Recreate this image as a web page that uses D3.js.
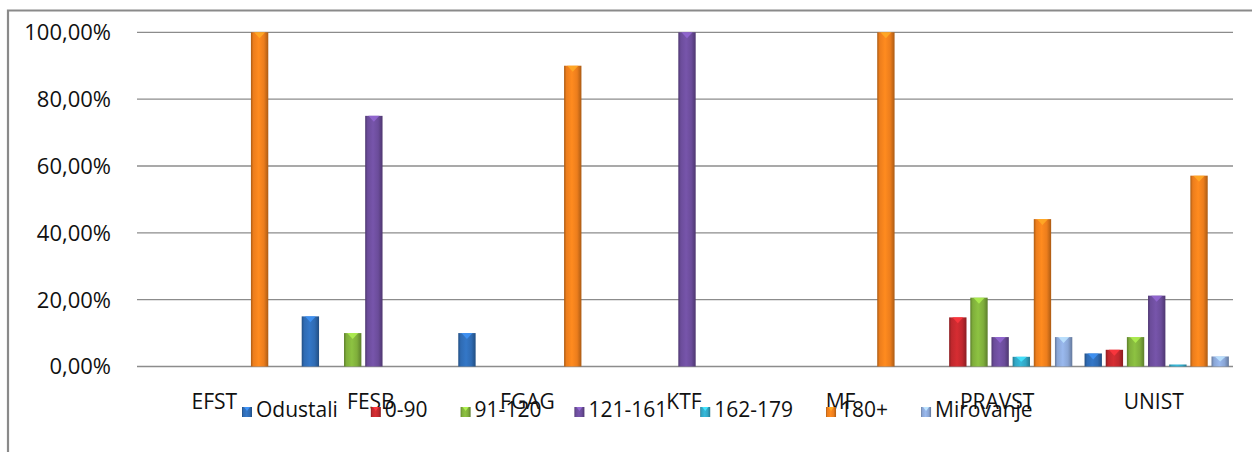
<!DOCTYPE html>
<html><head><meta charset="utf-8">
<script src="https://cdn.jsdelivr.net/npm/d3@7"></script>
<style>html,body{margin:0;padding:0;background:#fff}svg{display:block}</style>
</head><body><svg id="c" width="1252" height="452"></svg>
<script>
const categories = ["EFST","FESB","FGAG","KTF","MF","PRAVST","UNIST"];
const seriesNames = ["Odustali","0-90","91-120","121-161","162-179","180+","Mirovanje"];
const odustali  = [0, 15, 10, 0, 0, 0, 3.9];
const s0_90     = [0, 0, 0, 0, 0, 14.7, 5.0];
const s91_120   = [0, 10, 0, 0, 0, 20.6, 8.8];
const s121_161  = [0, 75, 0, 100, 0, 8.8, 21.2];
const s162_179  = [0, 0, 0, 0, 0, 2.9, 0.6];
const s180      = [100, 0, 90, 0, 100, 44.1, 57.1];
const mirovanje = [0, 0, 0, 0, 0, 8.8, 3.0];
const yTicks = [0, 20, 40, 60, 80, 100];
const seriesValues = [odustali, s0_90, s91_120, s121_161, s162_179, s180, mirovanje];
const colors = ["#2f6bb3","#c0282d","#7fae3b","#6b4c9a","#31a6c4","#ec7d1c","#8aa6d6"];

const svg = d3.select("#c");
svg.append("rect").attr("width",1252).attr("height",452).attr("fill","#fff");
svg.append("path").attr("d","M8,452V10.5H1252").attr("fill","none").attr("stroke","#8a8a8a").attr("stroke-width",2.2);

const L = 137, R = 1233, T = 32.3, B = 366.5;
const y = d3.scaleLinear().domain([0,100]).range([B,T]);
const x0 = d3.scaleBand().domain(categories).range([L+2, R+2]).paddingInner(0.054).paddingOuter(0.027);
const x1 = d3.scaleBand().domain(seriesNames).range([0, x0.bandwidth()]).paddingInner(0.18).paddingOuter(0.09);

const loc = d3.formatLocale({decimal:",", thousands:".", grouping:[3], currency:["","€"]});
const fmt = loc.format(".2f");
const FONT = "Open Sans";

// gridlines
svg.append("g").selectAll("line").data(yTicks).join("line")
  .attr("x1",L).attr("x2",R).attr("y1",d=>y(d)).attr("y2",d=>y(d))
  .attr("stroke","#8c8c8c").attr("stroke-width",1.3);

// y labels
svg.append("g").selectAll("text").data(yTicks).join("text")
  .attr("x",111).attr("y",d=>y(d)).attr("dy","0.36em").attr("text-anchor","end")
  .attr("font-family",FONT).attr("font-size",22).attr("fill","#111")
  .text(d=>fmt(d)+"%");

// gradients
const defs = svg.append("defs");
colors.forEach((c,i)=>{
  const g = defs.append("linearGradient").attr("id","g"+i).attr("x1","0").attr("x2","1").attr("y1","0").attr("y2","0");
  const base = d3.color(c);
  const dark = base.darker(0.9), light = base.brighter(0.3);
  [[0,dark],[0.14,base],[0.45,light],[0.75,base],[1,dark]].forEach(([o,col])=>{
    g.append("stop").attr("offset",o).attr("stop-color",col);
  });
});

// bars
const bars = [];
categories.forEach((cat,ci)=>{
  seriesNames.forEach((s,si)=>{
    const v = seriesValues[si][ci];
    if (v > 0) bars.push({cat, s, si, v});
  });
});
const bg = svg.append("g");
bg.selectAll("rect").data(bars).join("rect")
  .attr("x",d=>x0(d.cat)+x1(d.s)).attr("width",x1.bandwidth())
  .attr("y",d=>y(d.v)).attr("height",d=>B-y(d.v))
  .attr("fill",d=>"url(#g"+d.si+")");
bg.selectAll("path").data(bars.filter(d=>B-y(d.v)>4)).join("path")
  .attr("d",d=>{
    const xs = x0(d.cat)+x1(d.s), w = x1.bandwidth(), yt = y(d.v);
    const h = Math.min(6, (B-yt)*0.5);
    return `M${xs+w*0.18},${yt}L${xs+w*0.82},${yt}L${xs+w*0.5},${yt+h}Z`;
  })
  .attr("fill",d=>d3.color(colors[d.si]).brighter(0.9)).attr("opacity",0.85);

// category labels
svg.append("g").selectAll("text").data(categories).join("text")
  .attr("x",d=>x0(d)+x0.bandwidth()/2-3).attr("y",409).attr("text-anchor","middle")
  .attr("font-family",FONT).attr("font-size",21).attr("fill","#111").text(d=>d);

// legend
const lg = svg.append("g");
let lx = 242;
seriesNames.forEach((s,i)=>{
  const it = lg.append("g").attr("transform",`translate(${lx},0)`);
  it.append("rect").attr("x",0).attr("y",407).attr("width",10).attr("height",10).attr("fill","url(#g"+i+")");
  it.append("path").attr("d","M2,407L8,407L5,411Z").attr("fill",d3.color(colors[i]).brighter(0.9));
  const t = it.append("text").attr("x",14).attr("y",417)
    .attr("font-family",FONT).attr("font-size",21).attr("fill","#111").text(s);
  lx += 14 + t.node().getComputedTextLength() + 33;
});
</script></body></html>
